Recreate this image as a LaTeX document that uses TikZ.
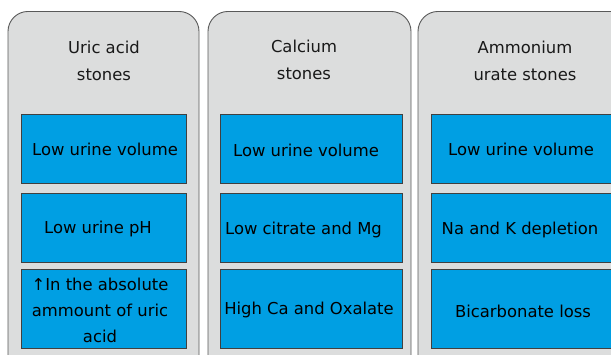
\documentclass[tikz,border=0pt]{standalone}
\usepackage{fontspec}
\setmainfont{DejaVu Sans}
\definecolor{graybg}{HTML}{DCDDDD}
\definecolor{cellblue}{HTML}{009FE3}
\begin{document}
\begin{tikzpicture}[x=1pt,y=-1pt,
 col/.style={draw=black!65, fill=graybg, rounded corners=20pt, line width=0.9pt, minimum height=420pt, anchor=north},
 cell/.style={draw=black!75, fill=cellblue, line width=0.8pt, inner sep=0pt},
 txt/.style={align=center, text=black, inner sep=0pt, font=\fontsize{16.4}{26}\selectfont},
 ttl/.style={align=center, text=black!90, font=\fontsize{16.4}{27}\selectfont}]
\useasboundingbox (0,0) rectangle (611,354);
\clip (0,0) rectangle (611,354);
% columns
\node[col, minimum width=191pt] (c1) at (103.5,11) {};
\node[col, minimum width=203pt] (c2) at (309.5,11) {};
\node[col, minimum width=240pt] (c3) at (538,11) {};
% titles
\node[ttl] (t1) at (104,60.5) {Uric acid\\stones};
\node[ttl] (t2) at (304,60) {Calcium\\stones};
\node[ttl] (t3) at (525,60.5) {Ammonium\\urate stones};
% column 1
\node[cell, minimum width=165pt, minimum height=69pt] (a1) at (103.5,148.5) {};
\node[cell, minimum width=165pt, minimum height=69pt] (a2) at (103.5,227.5) {};
\node[cell, minimum width=165pt, minimum height=79pt] (a3) at (103.5,308.5) {};
\node[txt] (a1t) at (105,149) {Low urine volume};
\node[txt] (a2t) at (98,229) {Low urine pH};
\node[txt] (a3t) at (100,310) {↑In the absolute\\ammount of uric\\acid};
% column 2
\node[cell, minimum width=182pt, minimum height=69pt] (b1) at (311,148.5) {};
\node[cell, minimum width=182pt, minimum height=69pt] (b2) at (311,227.5) {};
\node[cell, minimum width=182pt, minimum height=79pt] (b3) at (311,308.5) {};
\node[txt] (b1t) at (306,150) {Low urine volume};
\node[txt] (b2t) at (303.5,230) {Low citrate and Mg};
\node[txt] (b3t) at (309,310) {High Ca and Oxalate};
% column 3
\node[cell, minimum width=180pt, minimum height=69pt] (d1) at (521,148.5) {};
\node[cell, minimum width=180pt, minimum height=69pt] (d2) at (521,227.5) {};
\node[cell, minimum width=180pt, minimum height=79pt] (d3) at (521,308.5) {};
\node[txt] (d1t) at (521,149) {Low urine volume};
\node[txt] (d2t) at (520,230) {Na and K depletion};
\node[txt] (d3t) at (523,311) {Bicarbonate loss};
\end{tikzpicture}
\end{document}
